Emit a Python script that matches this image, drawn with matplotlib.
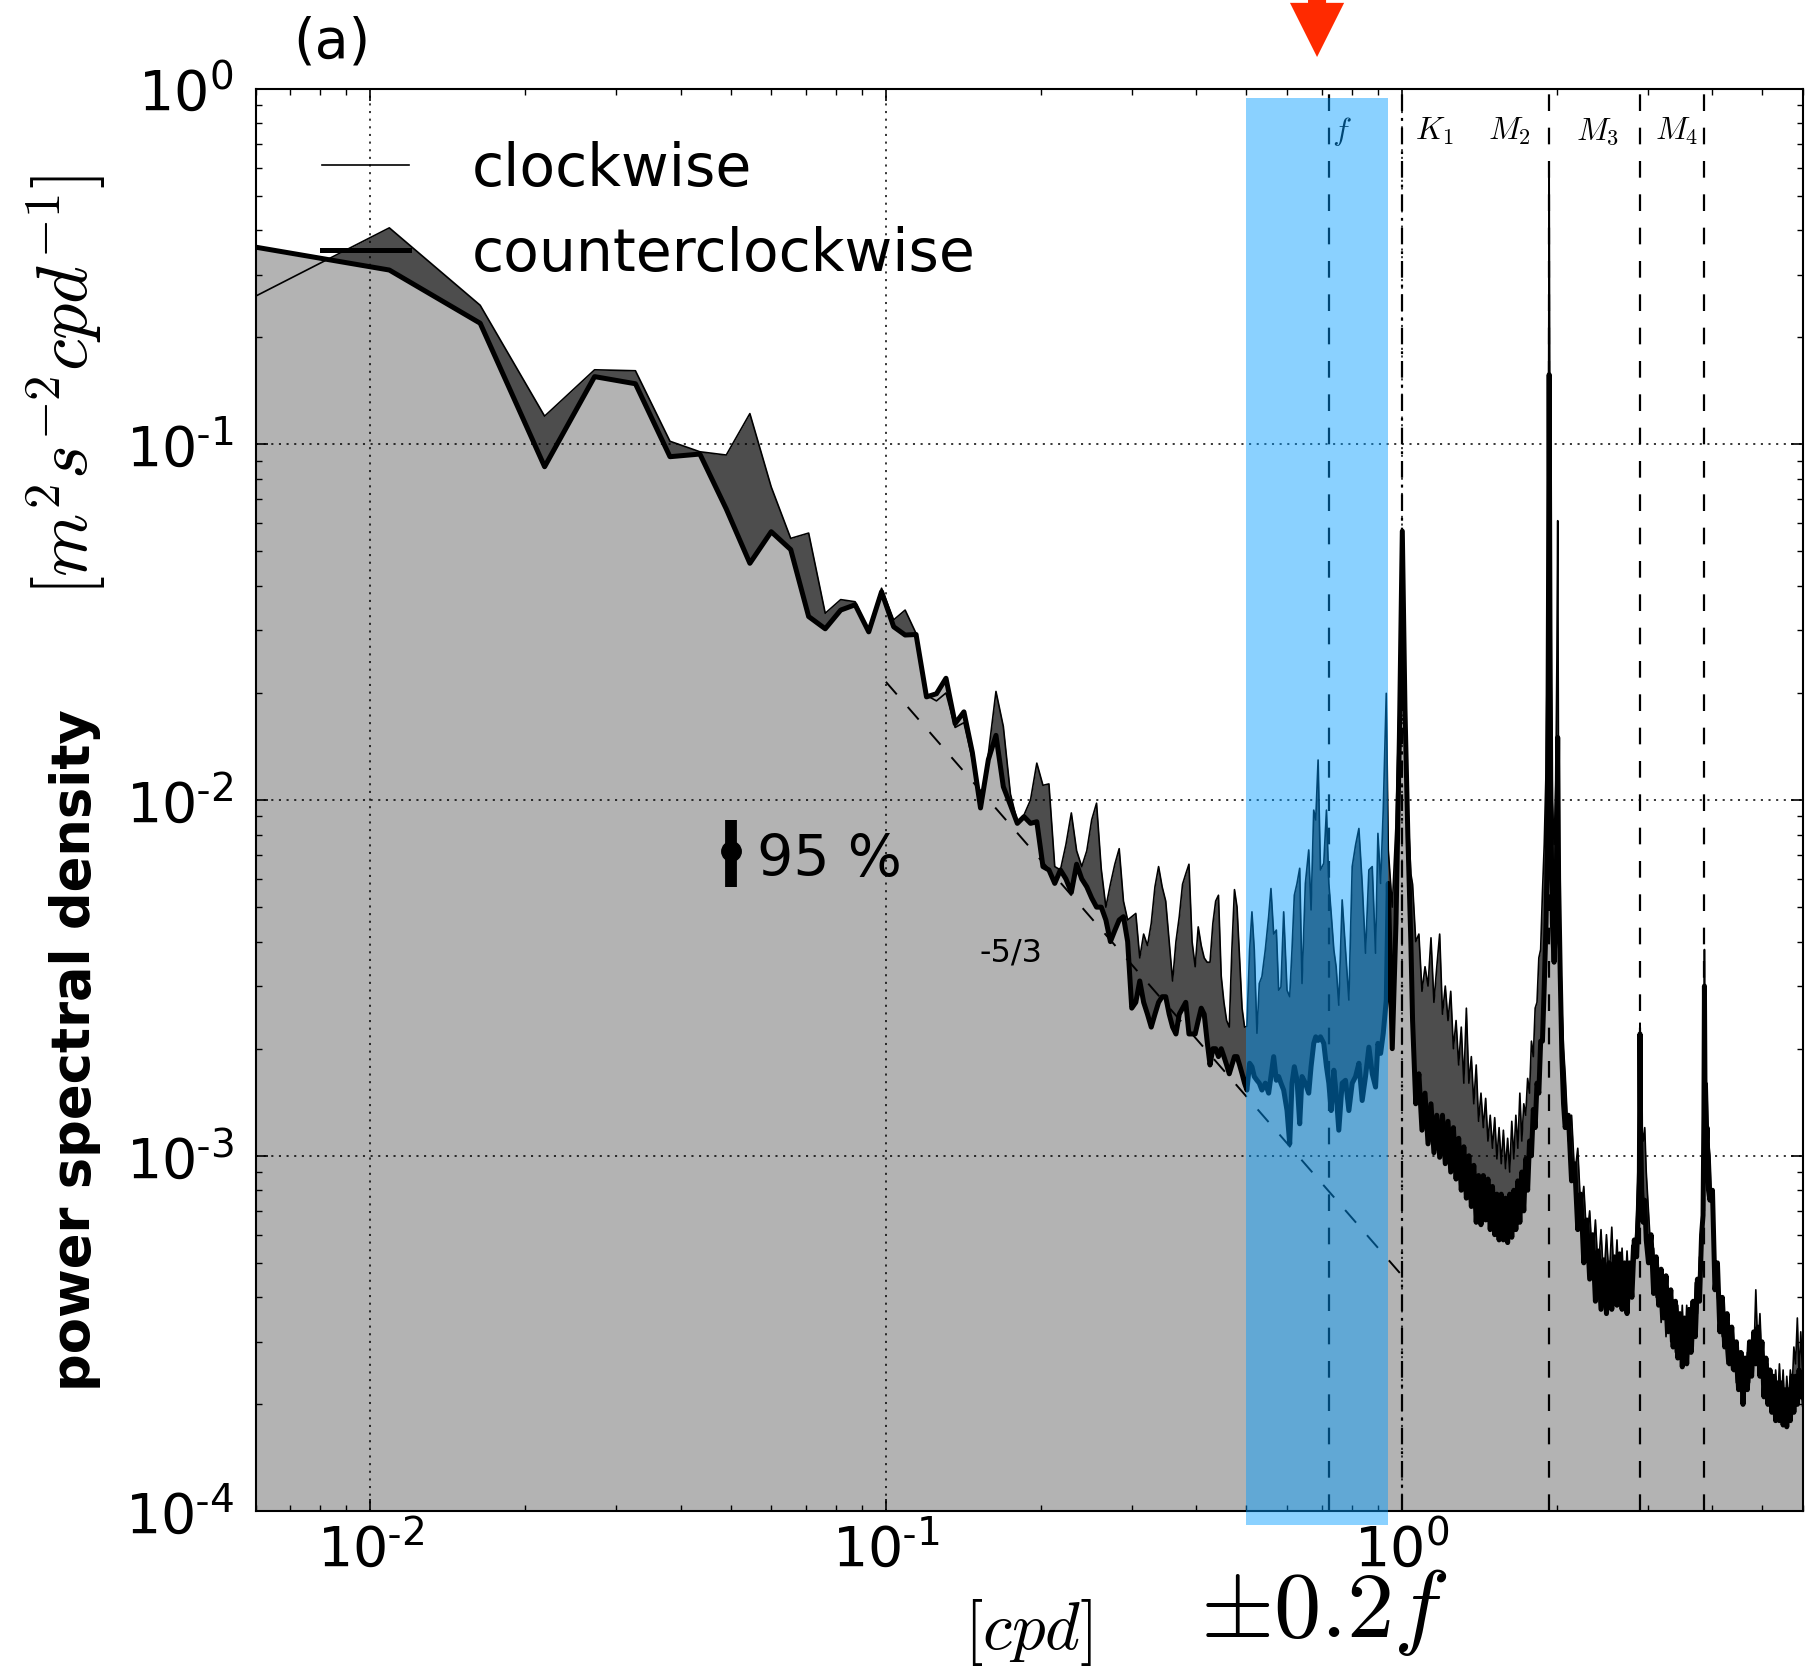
import matplotlib
matplotlib.use("Agg")
import matplotlib.pyplot as plt
import matplotlib.transforms as mtransforms
from matplotlib.ticker import FuncFormatter, NullFormatter
import numpy as np

plt.rcParams["mathtext.fontset"] = "cm"
plt.rcParams["axes.unicode_minus"] = False
plt.rcParams["lines.scale_dashes"] = False

# rotary spectra, low frequencies (df = 0.00545 cpd)
freq_low = [
    0.00545, 0.0109, 0.01635, 0.0218, 0.02725, 0.0327, 0.03815, 0.0436, 0.04905, 0.0545,
    0.05995, 0.0654, 0.07085, 0.0763, 0.08175, 0.0872, 0.09265, 0.0981, 0.10355, 0.109,
    0.11445, 0.1199, 0.12535, 0.1308, 0.13625, 0.1417, 0.14715, 0.1526, 0.15805, 0.1635,
    0.16895, 0.1744, 0.17985, 0.1853, 0.19075, 0.1962, 0.20165, 0.2071, 0.21255, 0.218,
    0.22345, 0.2289, 0.23435, 0.2398, 0.24525, 0.2507, 0.25615, 0.2616, 0.26705, 0.2725,
    0.27795, 0.2834, 0.28885, 0.2943, 0.29975, 0.3052, 0.31065, 0.3161, 0.32155, 0.327,
    0.33245, 0.3379, 0.34335, 0.3488, 0.35425, 0.3597, 0.36515, 0.3706, 0.37605, 0.3815,
    0.38695, 0.3924, 0.39785, 0.4033, 0.40875, 0.4142, 0.41965, 0.4251, 0.43055, 0.436,
    0.44145, 0.4469, 0.45235, 0.4578, 0.46325, 0.4687, 0.47415, 0.4796, 0.48505, 0.4905,
    0.49595,
]
cw_low = [
    0.243, 0.406, 0.246, 0.120, 0.162, 0.161, 0.102, 0.0953, 0.0933, 0.122,
    0.0759, 0.0544, 0.0563, 0.0335, 0.0366, 0.0361, 0.0299, 0.0394, 0.0321, 0.0342,
    0.0294, 0.0197, 0.0190, 0.0200, 0.0160, 0.0165, 0.0130, 0.00958, 0.0135, 0.0202,
    0.0161, 0.0104, 0.00869, 0.00908, 0.0100, 0.0127, 0.0110, 0.0111, 0.0065, 0.00636,
    0.0075, 0.0092, 0.0072, 0.0065, 0.0072, 0.0088, 0.0098, 0.0064, 0.0050, 0.0058,
    0.0066, 0.0073, 0.0052, 0.0046, 0.0047, 0.0048, 0.0036, 0.0042, 0.0039, 0.0045,
    0.0057, 0.0065, 0.0057, 0.0052, 0.0040, 0.0031, 0.0040, 0.0047, 0.0058, 0.0062,
    0.0066, 0.0040, 0.0034, 0.0044, 0.0039, 0.0036, 0.0035, 0.0035, 0.0045, 0.0052,
    0.0054, 0.0032, 0.0027, 0.0024, 0.0023, 0.0038, 0.0056, 0.0050, 0.0036, 0.0026,
    0.0023,
]
ccw_low = [
    0.367, 0.309, 0.219, 0.0865, 0.155, 0.148, 0.0923, 0.0939, 0.0658, 0.0463,
    0.0568, 0.0506, 0.0328, 0.0303, 0.0342, 0.0354, 0.0297, 0.0385, 0.0307, 0.0291,
    0.0292, 0.0195, 0.0199, 0.0220, 0.0164, 0.0177, 0.0136, 0.00950, 0.0130, 0.0152,
    0.0109, 0.00968, 0.0086, 0.00898, 0.0086, 0.00869, 0.0065, 0.00636, 0.00583, 0.00636,
    0.0060, 0.0055, 0.0066, 0.0060, 0.0057, 0.0053, 0.0050, 0.0050, 0.0046, 0.0040,
    0.0043, 0.0046, 0.0047, 0.0040, 0.0026, 0.0027, 0.0031, 0.0027, 0.0025, 0.0023,
    0.0025, 0.0027, 0.0028, 0.0028, 0.0025, 0.0023, 0.0022, 0.0025, 0.0026, 0.0027,
    0.0022, 0.0022, 0.0022, 0.0024, 0.0026, 0.0025, 0.0021, 0.0018, 0.0020, 0.0020,
    0.0019, 0.0020, 0.0019, 0.0018, 0.0017, 0.0018, 0.0019, 0.0019, 0.0018, 0.0017,
    0.0016,
]

# near-inertial band
freq_band = [
    0.5012, 0.5073, 0.5126, 0.5180, 0.5242, 0.5297, 0.5360, 0.5441, 0.5523, 0.5580,
    0.5648, 0.5716, 0.5775, 0.5835, 0.5906, 0.5995, 0.6067, 0.6130, 0.6194, 0.6269,
    0.6344, 0.6410, 0.6507, 0.6605, 0.6674, 0.6754, 0.6815, 0.6887, 0.6960, 0.7064,
    0.7149, 0.7225, 0.7301, 0.7389, 0.7464, 0.7554, 0.7668, 0.7783, 0.7901, 0.8020,
    0.8141, 0.8263, 0.8385, 0.8511, 0.8640, 0.8770, 0.8901, 0.8995, 0.9104, 0.9212,
    0.9337, 0.9421,
]
cw_band = [
    0.00231, 0.00379, 0.00485, 0.00379, 0.00221, 0.00305, 0.00319, 0.00379, 0.0047, 0.00564,
    0.0042, 0.00431, 0.00292, 0.00298, 0.00485, 0.00292, 0.0028, 0.00379, 0.0054, 0.00583,
    0.00643, 0.00305, 0.00583, 0.00724, 0.00491, 0.00937, 0.00879, 0.01296, 0.00636, 0.00664,
    0.00937, 0.00583, 0.0048, 0.00379, 0.0034, 0.00265, 0.00524, 0.00379, 0.00274, 0.0065,
    0.00747, 0.00832, 0.00583, 0.00371, 0.00636, 0.0065, 0.00371, 0.00806, 0.00583, 0.00937,
    0.01995, 0.00724,
]
ccw_band = [
    0.00153, 0.00182, 0.00178, 0.00167, 0.00163, 0.0016, 0.00153, 0.0016, 0.0015, 0.00167,
    0.0019, 0.00163, 0.00167, 0.0016, 0.00153, 0.00134, 0.00108, 0.0016, 0.00178, 0.00163,
    0.00123, 0.00167, 0.0016, 0.0015, 0.00178, 0.00207, 0.00216, 0.00211, 0.00216, 0.00207,
    0.00178, 0.0016, 0.00134, 0.00174, 0.0015, 0.00118, 0.0016, 0.00163, 0.00134, 0.0016,
    0.00167, 0.00182, 0.00143, 0.00167, 0.00202, 0.0017, 0.00156, 0.00207, 0.00194, 0.00221,
    0.00274, 0.00583,
]

# diurnal to 6 cpd
freq_tide = [
    0.959, 0.975, 0.990, 1.003, 1.015, 1.028, 1.042,
    1.05, 1.065, 1.08, 1.095, 1.11, 1.125, 1.14, 1.155, 1.17, 1.185,
    1.20, 1.215, 1.23, 1.245, 1.26, 1.275, 1.29, 1.305, 1.32, 1.335,
    1.35, 1.365, 1.38, 1.395, 1.41, 1.425, 1.44, 1.455, 1.47, 1.485,
    1.50, 1.515, 1.53, 1.545, 1.56, 1.575, 1.59, 1.605, 1.62, 1.635,
    1.65, 1.665, 1.68, 1.695, 1.71, 1.725, 1.74, 1.755, 1.77, 1.785,
    1.80, 1.815, 1.83, 1.845, 1.86, 1.875, 1.89,
    1.905, 1.918, 1.926, 1.932, 1.939, 1.947, 1.96, 1.975, 1.99, 2.0,
    2.007, 2.015, 2.03, 2.045, 2.06,
    2.075, 2.105, 2.135, 2.165, 2.195, 2.225, 2.255, 2.285, 2.315, 2.345,
    2.375, 2.405, 2.435, 2.465, 2.495, 2.525, 2.555, 2.585, 2.615, 2.645,
    2.675, 2.705, 2.735, 2.765, 2.795, 2.825, 2.855, 2.875, 2.89,
    2.898, 2.906, 2.92, 2.94, 2.96, 2.98,
    3.01, 3.045, 3.08, 3.115, 3.15, 3.185, 3.22, 3.255, 3.29, 3.325,
    3.36, 3.395, 3.43, 3.465, 3.50, 3.535, 3.57, 3.605, 3.64, 3.675,
    3.71, 3.745, 3.78, 3.815,
    3.84, 3.855, 3.864, 3.873, 3.89, 3.91, 3.935,
    3.96, 4.005, 4.05, 4.095, 4.14, 4.185, 4.23, 4.275, 4.32, 4.365,
    4.41, 4.455, 4.50, 4.545, 4.59, 4.635, 4.68, 4.725, 4.77, 4.815,
    4.86, 4.905, 4.95, 4.995, 5.04, 5.085, 5.13, 5.175, 5.22, 5.265,
    5.31, 5.355, 5.40, 5.445, 5.49, 5.535, 5.58, 5.625, 5.67, 5.715,
    5.76, 5.805, 5.85, 5.895, 5.94, 5.985, 6.03,
]
cw_tide = [
    0.0050, 0.0085, 0.020, 0.050, 0.020, 0.0094, 0.0062,
    0.0058, 0.0040, 0.0042, 0.0029, 0.0034, 0.0030, 0.0041, 0.0027, 0.0034, 0.0042,
    0.0025, 0.0030, 0.0024, 0.0029, 0.0020, 0.0024, 0.0018, 0.0023, 0.0016, 0.0026,
    0.0016, 0.0019, 0.0014, 0.0018, 0.00125, 0.0015, 0.0012, 0.00145, 0.0011, 0.0013,
    0.00105, 0.00128, 0.00098, 0.0012, 0.00095, 0.00118, 0.00092, 0.00112, 0.00090, 0.00125,
    0.00098, 0.00130, 0.00105, 0.00150, 0.00110, 0.00140, 0.00130, 0.00165, 0.00150, 0.0021,
    0.0019, 0.0026, 0.0027, 0.0036, 0.0038, 0.0055, 0.0075,
    0.012, 0.030, 0.10, 0.59, 0.08, 0.025, 0.010, 0.0075, 0.011, 0.025,
    0.061, 0.010, 0.0042, 0.0026, 0.0020,
    0.0017, 0.0011, 0.0013, 0.00088, 0.00105, 0.00070, 0.00082, 0.00058, 0.00070, 0.00050,
    0.00066, 0.00047, 0.00062, 0.00044, 0.00060, 0.00045, 0.00063, 0.00042, 0.00058, 0.00040,
    0.00055, 0.00039, 0.00054, 0.00040, 0.00056, 0.00050, 0.00068, 0.00090, 0.0013,
    0.00236, 0.0014, 0.0012, 0.0011, 0.0012, 0.0009,
    0.00070, 0.00052, 0.00055, 0.00040, 0.00046, 0.00034, 0.00043, 0.00031, 0.00041, 0.00030,
    0.00039, 0.00028, 0.00038, 0.00027, 0.00038, 0.00027, 0.00038, 0.00028, 0.00039, 0.00029,
    0.00044, 0.00036, 0.00052, 0.00048,
    0.00090, 0.0016, 0.0038, 0.0020, 0.0013, 0.0016, 0.0011,
    0.0010, 0.00065, 0.00052, 0.00040, 0.00036, 0.00031, 0.00032, 0.00026, 0.00030, 0.00025,
    0.00029, 0.00023, 0.00028, 0.00023, 0.00028, 0.00022, 0.00028, 0.00023, 0.00030, 0.00026,
    0.00042, 0.00028, 0.00036, 0.00026, 0.00027, 0.00022, 0.00026, 0.00021, 0.00025, 0.00020,
    0.00025, 0.00020, 0.00026, 0.00020, 0.00025, 0.00019, 0.00024, 0.00020, 0.00025, 0.00022,
    0.00029, 0.00026, 0.00035, 0.00024, 0.00032, 0.00025, 0.00030,
]
ccw_tide = [
    0.0020, 0.0045, 0.015, 0.057, 0.018, 0.0080, 0.0040,
    0.0024, 0.0014, 0.0017, 0.00118, 0.0015, 0.00108, 0.0014, 0.00102, 0.0013, 0.00099,
    0.0013, 0.00095, 0.00125, 0.00090, 0.0012, 0.00086, 0.00112, 0.00080, 0.00106, 0.00076,
    0.0010, 0.00072, 0.00094, 0.00065, 0.00088, 0.00064, 0.00088, 0.00066, 0.00086, 0.00062,
    0.00082, 0.00060, 0.00078, 0.00058, 0.00078, 0.00058, 0.00076, 0.00057, 0.00078, 0.00059,
    0.00080, 0.00062, 0.00085, 0.00065, 0.00090, 0.00070, 0.00098, 0.00080, 0.00110, 0.00100,
    0.00135, 0.00120, 0.0016, 0.0015, 0.0021, 0.0021, 0.0030,
    0.0045, 0.008, 0.035, 0.157, 0.030, 0.009, 0.0045, 0.0035, 0.005, 0.008,
    0.015, 0.006, 0.0032, 0.0019, 0.0014,
    0.0012, 0.0013, 0.00085, 0.00095, 0.00062, 0.00078, 0.00050, 0.00066, 0.00045, 0.00060,
    0.00039, 0.00054, 0.00037, 0.00051, 0.00036, 0.00050, 0.00037, 0.00052, 0.00038, 0.00053,
    0.00037, 0.00050, 0.00036, 0.00050, 0.00040, 0.00058, 0.00052, 0.00068, 0.0009,
    0.0022, 0.0012, 0.0008, 0.00065, 0.00075, 0.00058,
    0.00050, 0.00060, 0.00041, 0.00052, 0.00038, 0.00048, 0.00035, 0.00046, 0.00032, 0.00042,
    0.00029, 0.00039, 0.00027, 0.00036, 0.000255, 0.00035, 0.00026, 0.00037, 0.00028, 0.00039,
    0.00031, 0.00045, 0.00039, 0.00060,
    0.00068, 0.0013, 0.0030, 0.0016, 0.0010, 0.0012, 0.0008,
    0.00075, 0.00080, 0.00042, 0.00050, 0.00032, 0.00040, 0.00029, 0.00036, 0.00026, 0.00033,
    0.00025, 0.00030, 0.00022, 0.00028, 0.00020, 0.00027, 0.00022, 0.00030, 0.00024, 0.00032,
    0.00026, 0.00033, 0.00024, 0.00030, 0.00021, 0.00027, 0.00020, 0.00025, 0.00019, 0.00024,
    0.00018, 0.00023, 0.00018, 0.00023, 0.000175, 0.00022, 0.000173, 0.00022, 0.00018, 0.00024,
    0.00019, 0.00024, 0.00020, 0.00025, 0.00021, 0.00023, 0.00020,
]

# reference frequencies (cpd)
f_inertial = 0.7225
band_edges = [0.50, 0.942]
tide_freq = [1.0027, 1.9323, 2.8984, 3.8645]
tide_names = ["$K_1$", "$M_2$", "$M_3$", "$M_4$"]
tide_label_x = [1.155, 1.616, 2.40, 3.41]
arrow_f = 0.6855

# -5/3 slope and 95% confidence bar
slope_f = [0.1, 1.0]
slope_p = [0.0215, 0.000462]
ci_f = 0.05
ci_p = 0.0072
ci_range = [0.0057, 0.0088]

freq = np.array(freq_low + freq_band + freq_tide)
cw = np.array(cw_low + cw_band + cw_tide)
ccw = np.array(ccw_low + ccw_band + ccw_tide)

fig = plt.figure(figsize=(18.05, 16.8), dpi=100)
ax = fig.add_axes([0.14161, 0.10030, 0.85729, 0.84696])

ax.fill_between(freq, ccw, cw, color="0.3", lw=0, zorder=1)
ax.fill_between(freq, 1e-5, ccw, color="0.7", lw=0, zorder=1.1)
ax.plot(freq, cw, color="k", lw=1.2, label="clockwise", zorder=2)
ax.plot(freq, ccw, color="k", lw=3.6, label="counterclockwise", zorder=2)

# inertial and tidal lines
ax.axvline(f_inertial, color="k", lw=1.6, dashes=(12, 12), zorder=2)
ax.axvline(tide_freq[0], color="k", lw=1.6, dashes=(12, 5, 2, 5), zorder=2)
for fr in tide_freq[1:]:
    ax.axvline(fr, color="k", lw=1.6, dashes=(12, 12), zorder=2)
ax.text(0.767, 0.757, "$f$", fontsize=23, ha="center", va="center")
for name, lx in zip(tide_names, tide_label_x):
    ax.text(lx, 0.757, name, fontsize=23, ha="center", va="center")

ax.plot(slope_f, slope_p, color="k", lw=1.4, dashes=(12, 12), zorder=2)
ax.text(0.175, 0.00371, "-5/3", fontsize=23, ha="center", va="center")

ax.errorbar([ci_f], [ci_p], yerr=[[ci_p - ci_range[0]], [ci_range[1] - ci_p]],
            fmt="o", color="k", ms=14, elinewidth=8.5, capsize=0, zorder=4)
ax.text(0.0562, 0.00674, "95 %", fontsize=41, ha="left", va="center")

# near-inertial band
ax.axvspan(band_edges[0], band_edges[1], ymin=-0.0098, ymax=0.9935,
           color=(0.0, 0.608, 1.0), alpha=0.46, lw=0, zorder=3, clip_on=False)

trans = mtransforms.blended_transform_factory(ax.transData, ax.transAxes)
ax.annotate("", xy=(arrow_f, 1.0222), xycoords=trans,
            xytext=(arrow_f, 1.10), textcoords=trans, annotation_clip=False,
            arrowprops=dict(facecolor="#ff2a00", edgecolor="none", width=13,
                            headwidth=39, headlength=39, shrink=0))


def decade_label(v, pos):
    e = int(round(np.log10(v)))
    if e < 0:
        return r"$\mathdefault{10^{\text{-}%d}}$" % (-e)
    return r"$\mathdefault{10^{%d}}$" % e


ax.set_xscale("log")
ax.set_yscale("log")
ax.set_xlim(0.006, 6.0)
ax.set_ylim(1e-4, 1)
for axis in (ax.xaxis, ax.yaxis):
    axis.set_major_formatter(FuncFormatter(decade_label))
    axis.set_minor_formatter(NullFormatter())
ax.set_axisbelow(False)
ax.grid(True, which="major", color="k", lw=1.1, linestyle=(0, (1.5, 4)))
ax.tick_params(which="both", direction="in", top=True, right=True, labelsize=40)
ax.tick_params(which="major", length=8.6, width=1.2)
ax.tick_params(axis="y", which="major", pad=16)
ax.tick_params(axis="x", which="major", pad=8)
ax.tick_params(which="minor", length=4, width=1)
for s in ax.spines.values():
    s.set_linewidth(1.5)

ax.legend(loc="upper left", bbox_to_anchor=(0.0429, 0.9633), frameon=False,
          fontsize=42, handlelength=1.5, handletextpad=1.07, labelspacing=0.48,
          borderpad=0, borderaxespad=0)

fig.text(0.1623, 0.9747, "(a)", fontsize=40, ha="left", va="center")
fig.text(0.0414, 0.3747, "power spectral density", rotation=90, fontsize=38,
         fontweight="bold", ha="center", va="center")
fig.text(0.0365, 0.7705, r"$[m^2s^{-2}cpd^{-1}]$", rotation=90, fontsize=52,
         ha="center", va="center")
fig.text(0.5695, 0.0284, r"$[cpd]$", fontsize=48, ha="center", va="center")
fig.text(0.7335, 0.0405, r"$\pm 0.2f$", fontsize=68, ha="center", va="center")

fig.savefig("out.png", dpi=100)
